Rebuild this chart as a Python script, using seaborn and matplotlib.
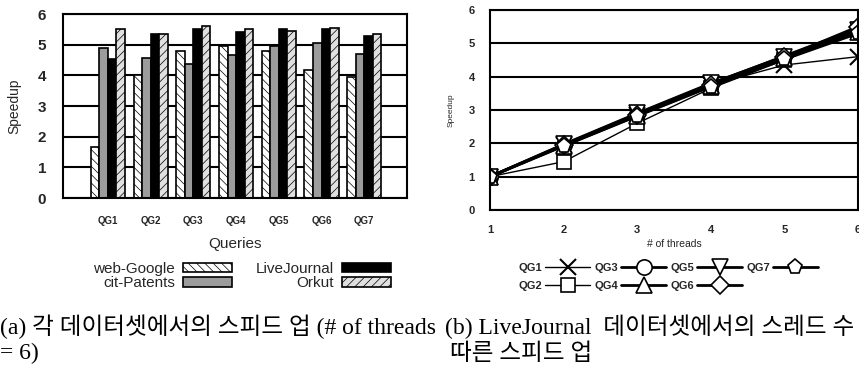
import pandas as pd
import seaborn as sns
import matplotlib.pyplot as plt

sns.set_theme(style="white")
plt.rcParams['font.family'] = ['Liberation Sans', 'DejaVu Sans']
plt.rcParams['hatch.linewidth'] = 0.5

# bar chart data (# of threads = 6)
queries = ['QG1', 'QG2', 'QG3', 'QG4', 'QG5', 'QG6', 'QG7']
datasets = ['web-Google', 'cit-Patents', 'LiveJournal', 'Orkut']
web_google = [1.65, 4.0, 4.78, 4.95, 4.78, 4.18, 3.96]
cit_patents = [4.88, 4.58, 4.38, 4.66, 4.97, 5.05, 4.69]
live_journal = [4.53, 5.34, 5.5, 5.4, 5.5, 5.5, 5.29]
orkut = [5.5, 5.34, 5.6, 5.5, 5.45, 5.55, 5.34]

# LiveJournal speedup vs threads
threads = [1, 2, 3, 4, 5, 6]
qg1 = [1.0, 1.95, 2.85, 3.75, 4.35, 4.6]
qg2 = [1.0, 1.45, 2.6, 3.65, 4.5, 5.35]
qg3 = [1.0, 1.96, 2.88, 3.78, 4.62, 5.45]
qg4 = [1.0, 1.93, 2.83, 3.72, 4.56, 5.35]
qg5 = [1.0, 1.97, 2.9, 3.8, 4.6, 5.4]
qg6 = [1.0, 1.95, 2.85, 3.75, 4.58, 5.5]
qg7 = [1.0, 1.92, 2.82, 3.7, 4.52, 5.3]

bar_df = pd.DataFrame({
    'query': queries * 4,
    'dataset': sum([[d] * 7 for d in datasets], []),
    'speedup': web_google + cit_patents + live_journal + orkut,
})
line_series = [qg1, qg2, qg3, qg4, qg5, qg6, qg7]
line_df = pd.DataFrame({
    'threads': threads * 7,
    'query': sum([[q] * 6 for q in queries], []),
    'speedup': sum(line_series, []),
})

fig = plt.figure(figsize=(8.59, 3.69), dpi=100)
W, H = 859, 369

# ---- (a) bar chart ----
ax1 = fig.add_axes([63 / W, 1 - 198 / H, 344 / W, 184 / H])
colors = {'web-Google': 'white', 'cit-Patents': '#9c9c9c',
          'LiveJournal': 'black', 'Orkut': '#e0e0e0'}
hatches = ['\\\\\\\\', '', '', '////']
sns.barplot(data=bar_df, x='query', y='speedup', hue='dataset',
            palette=colors, edgecolor='black', linewidth=1.2,
            ax=ax1, legend=False, width=0.8)
for cont, h in zip(ax1.containers, hatches):
    for bar in cont:
        bar.set_hatch(h)
ax1.set_axisbelow(True)
ax1.yaxis.grid(True, color='black', linewidth=1.5)
ax1.set_ylim(0, 6)
ax1.set_xlim(-1.05, 7.0)
ax1.set_yticks(range(0, 7))
for s in ax1.spines.values():
    s.set_color('black')
    s.set_linewidth(1.5)
ax1.tick_params(axis='y', labelsize=11, pad=6)
ax1.tick_params(axis='x', labelsize=7, pad=7)
for t in ax1.get_xticklabels() + ax1.get_yticklabels():
    t.set_fontweight('bold')
ax1.set_xlabel('Queries', fontsize=11, labelpad=8)
ax1.set_ylabel('Speedup', fontsize=10, labelpad=12)

fig.legend(ax1.containers, datasets, ncol=2, markerfirst=False, frameon=False,
           loc='center', bbox_to_anchor=(242 / W, 1 - 276 / H),
           fontsize=11, handlelength=3.2, handleheight=0.55,
           labelspacing=0.05, columnspacing=1.6, handletextpad=0.5)

# ---- (b) line chart ----
ax2 = fig.add_axes([490 / W, 1 - 210 / H, 368 / W, 200 / H])
# seaborn refuses mixing 'x' with filled markers, so QG1 is switched after
marker_map = {'QG1': 'P', 'QG2': 's', 'QG3': 'o', 'QG4': '^',
              'QG5': 'v', 'QG6': 'D', 'QG7': 'p'}
sns.lineplot(data=line_df, x='threads', y='speedup', style='query',
             markers=marker_map, dashes=False, color='black', ax=ax2,
             legend=False, errorbar=None, linewidth=2, markersize=11,
             markeredgecolor='black', markeredgewidth=1.2)
for i, line in enumerate(ax2.lines):
    line.set_markerfacecolor('white')
    line.set_markeredgecolor('black')
    if i < 2:
        line.set_linewidth(1.0)
ax2.lines[0].set_marker('x')
ax2.lines[0].set_markeredgewidth(1.5)
ax2.lines[0].set_markersize(12)
ax2.lines[1].set_markersize(10)
ax2.lines[5].set_markersize(9)
ax2.set_axisbelow(True)
ax2.yaxis.grid(True, color='black', linewidth=1.5)
ax2.set_xlim(1, 6)
ax2.set_ylim(0, 6)
ax2.set_xticks(threads)
ax2.set_yticks(range(0, 7))
for s in ax2.spines.values():
    s.set_color('black')
    s.set_linewidth(1.5)
ax2.tick_params(labelsize=8, pad=5)
for t in ax2.get_xticklabels() + ax2.get_yticklabels():
    t.set_fontweight('bold')
ax2.set_xlabel('# of threads', fontsize=7.5, labelpad=3)
ax2.set_ylabel('Speedup', fontsize=6, labelpad=10)

fig.legend(ax2.lines, queries, ncol=4, markerfirst=False, frameon=False,
           loc='center', bbox_to_anchor=(668 / W, 1 - 277 / H),
           prop={'size': 8, 'weight': 'bold'}, handlelength=4.0,
           labelspacing=0.75, columnspacing=0.4, handletextpad=0.3)

# ---- captions ----
cap = dict(fontsize=17, family=['Liberation Serif', 'Noto Sans CJK KR'],
           va='center', ha='left', color='black')
fig.text(0 / W, 1 - 327 / H, '(a) 각 데이터셋에서의 스피드 업 (# of threads', **cap)
fig.text(0 / W, 1 - 353 / H, '= 6)', **cap)
fig.text(445 / W, 1 - 327 / H, '(b) LiveJournal  데이터셋에서의 스레드 수', **cap)
fig.text(450 / W, 1 - 354 / H, '따른 스피드 업', **cap)

fig.savefig('out.png', dpi=100)
